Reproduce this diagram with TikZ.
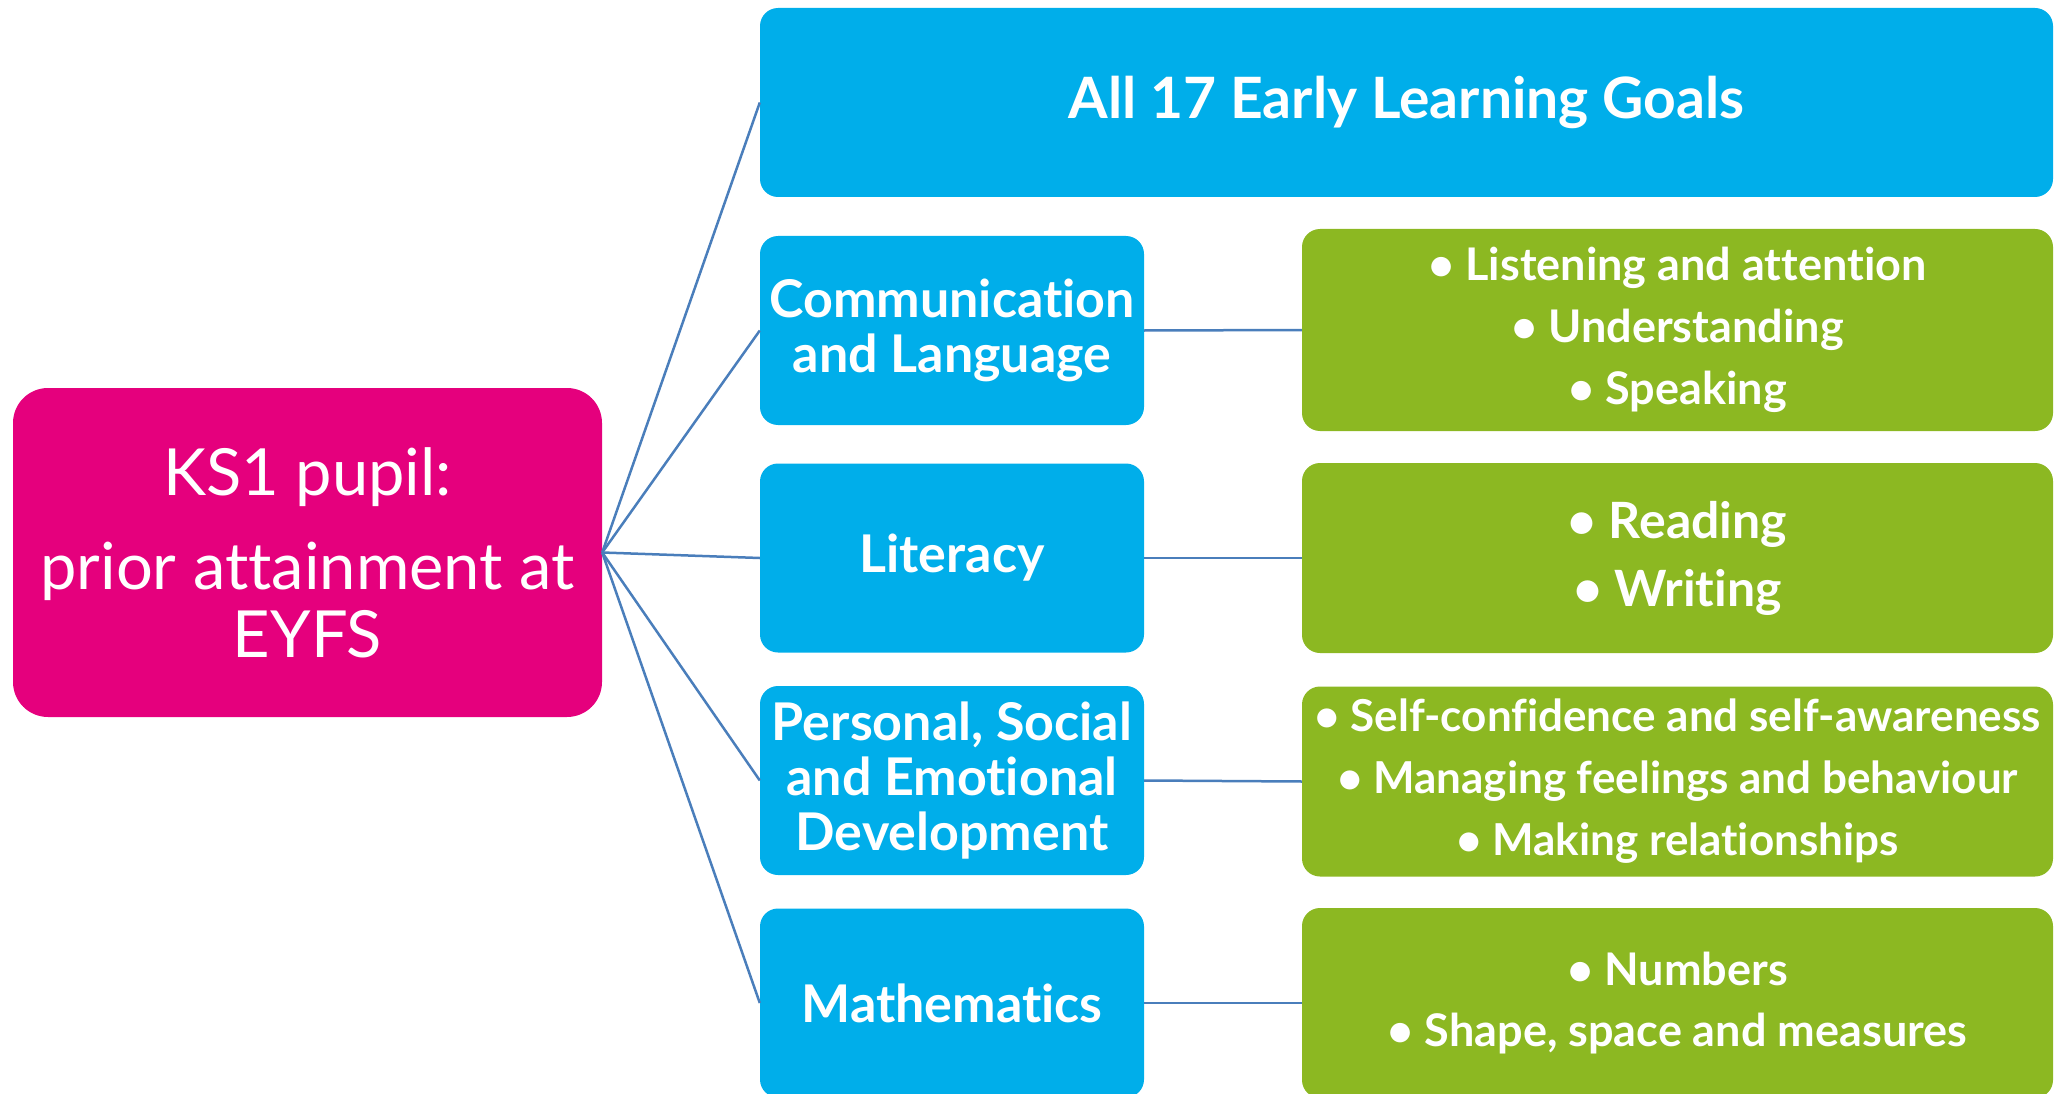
\documentclass[tikz,border=0pt]{standalone}
\usepackage{fontspec}
\setmainfont{Lato}[Ligatures=NoCommon]
\usetikzlibrary{positioning}
\definecolor{pupilpink}{HTML}{E5007D}
\definecolor{areablue}{HTML}{00AEEA}
\definecolor{detailgreen}{HTML}{8CB822}
\definecolor{linkblue}{HTML}{4A7EBB}

\begin{document}
\begin{tikzpicture}[x = 1pt, y = -1pt,
  pupilbox/.style={fill=pupilpink, text=white, rounded corners=35pt, align=center, inner sep=0pt,
    minimum width=589pt, minimum height=329pt, font=\fontsize{65}{68}\selectfont},
  areabox/.style={fill=areablue, text=white, rounded corners=18pt, align=center, inner sep=0pt,
    minimum width=384pt, minimum height=189pt, font=\fontsize{52}{55}\selectfont\bfseries},
  detailbox/.style={fill=detailgreen, text=white, rounded corners=18pt, align=center, inner sep=0pt,
    minimum width=751pt, minimum height=190pt, font=\fontsize{45}{62}\selectfont\bfseries},
  link/.style={draw=linkblue, line width=2.5pt}]
\useasboundingbox (0,0) rectangle (2056,1094);
% Pupil
\node[pupilbox] (pupil) at (307.5,552.5) {KS1 pupil:\\[26pt]prior attainment at\\EYFS};
% All goals
\node[areabox, minimum width=1293pt, font=\fontsize{57}{60}\selectfont\bfseries] (goals) at (1406.5,102.5) {All 17 Early Learning Goals};
% Areas of learning
\node[areabox] (comm) at (952,330.5) {Communication\\and Language};
\node[areabox] (lit) at (952,558) {Literacy};
\node[areabox] (pse) at (952,780.5) {Personal, Social\\and Emotional\\Development};
\node[areabox] (maths) at (952,1003) {Mathematics};
% Early learning goals per area
\node[detailbox, minimum height=202pt] (commgoals) at (1677.5,330) {• Listening and attention\\• Understanding\\• Speaking};
\node[detailbox, font=\fontsize{50}{68}\selectfont\bfseries] (litgoals) at (1677.5,558) {• Reading\\• Writing};
\node[detailbox, font=\fontsize{44}{62}\selectfont\bfseries] (psegoals) at (1677.5,781.5) {• Self-confidence and self-awareness\\• Managing feelings and behaviour\\• Making relationships};
\node[detailbox, font=\fontsize{45}{61}\selectfont\bfseries] (mathsgoals) at (1677.5,1003) {• Numbers\\• Shape, space and measures};
% Links from pupil
\draw[link] (pupil.east) -- (goals.west);
\draw[link] (pupil.east) -- (comm.west);
\draw[link] (pupil.east) -- (lit.west);
\draw[link] (pupil.east) -- (pse.west);
\draw[link] (pupil.east) -- (maths.west);
% Links to goals
\draw[link] (comm.east) -- (commgoals.west);
\draw[link] (lit.east) -- (litgoals.west);
\draw[link] (pse.east) -- (psegoals.west);
\draw[link] (maths.east) -- (mathsgoals.west);
\end{tikzpicture}
\end{document}
